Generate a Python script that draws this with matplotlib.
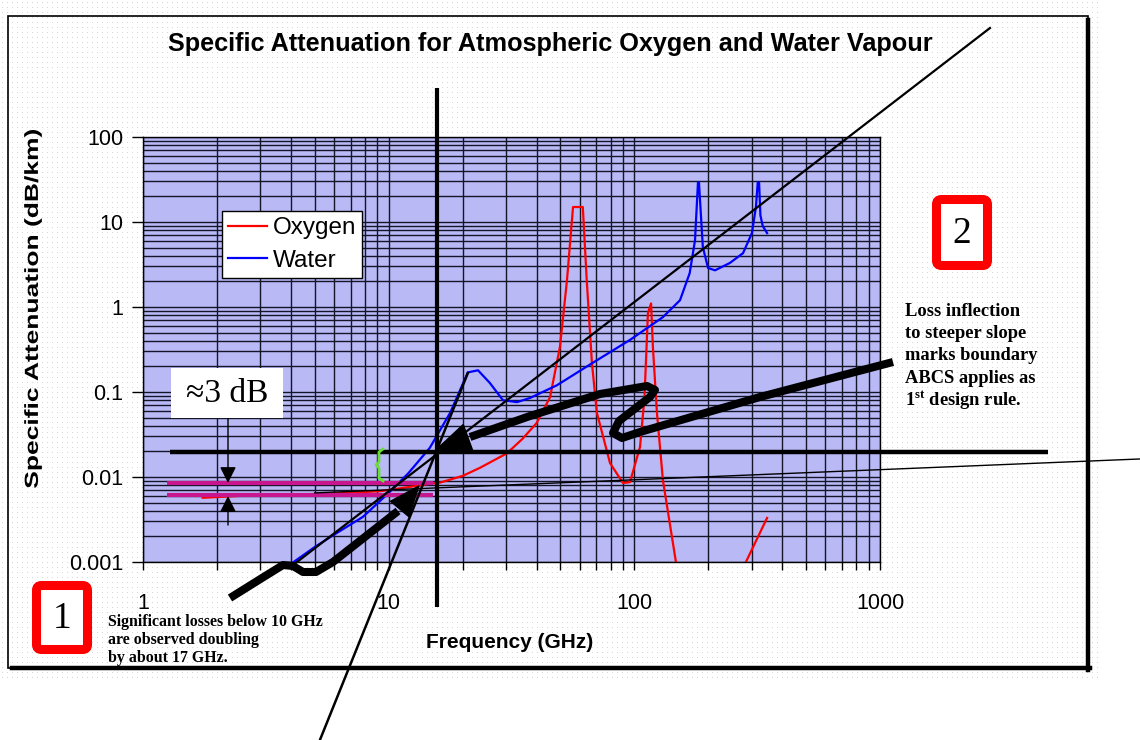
import numpy as np
import matplotlib
matplotlib.use('Agg')
import matplotlib.pyplot as plt
from matplotlib.patches import Rectangle, FancyBboxPatch, FancyArrowPatch, Polygon, PathPatch
from matplotlib.lines import Line2D
from matplotlib.transforms import Affine2D
from matplotlib.ticker import LogLocator, NullFormatter
from matplotlib.textpath import TextPath
from matplotlib.font_manager import FontProperties

plt.rcParams['font.family'] = ['Liberation Sans', 'DejaVu Sans']
plt.rcParams['mathtext.fontset'] = 'custom'
plt.rcParams['mathtext.rm'] = 'Liberation Serif:bold'
plt.rcParams['mathtext.bf'] = 'Liberation Serif:bold'

# ---- data (GHz, dB/km) ----
oxygen_freq = [1.75, 2.5, 4, 6, 7.4, 9.2, 12, 14.7, 16.2, 20, 23.5, 30.3, 35, 40, 45.4, 49.8,
               53.2, 56.3, 61.7, 64, 67.2, 70.4, 79.6, 89.9, 96, 105.5, 110, 113.6, 117,
               119, 123.6, 130.7, 149, np.nan, 277, 347]
oxygen_att = [0.0057, 0.0060, 0.0062, 0.0064, 0.0066, 0.0068, 0.0076, 0.0083, 0.0086, 0.0103,
              0.0128, 0.019, 0.028, 0.043, 0.087, 0.34, 2.08, 15, 15, 2.08, 0.22, 0.057,
              0.0146, 0.0085, 0.0087, 0.0226, 0.087, 0.85, 1.1, 0.34, 0.057, 0.0092, 0.00085,
              np.nan, 0.00085, 0.0033]

water_freq = [4.0, 5, 6, 7.86, 10, 12, 14.7, 17.8, 21, 23.1, 25.8, 29.2, 33.3, 37.6, 48.4,
              65.9, 96, 130.7, 153.4, 168, 176.6, 181.6, 183.3, 190, 199.5, 213, 245, 277,
              301, 312.6, 318, 322, 326, 333, 347]
water_att = [0.00095, 0.0015, 0.0021, 0.0034, 0.0065, 0.011, 0.022, 0.057, 0.17, 0.18, 0.128,
             0.08, 0.076, 0.085, 0.12, 0.21, 0.41, 0.76, 1.2, 2.5, 6.1, 29.5, 29, 5.1, 2.88,
             2.7, 3.3, 4.3, 7.4, 15, 29.5, 29, 12, 9, 7.4]

x_ticks = [1, 10, 100, 1000]
x_tick_labels = ['1', '10', '100', '1000']
y_ticks = [0.001, 0.01, 0.1, 1, 10, 100]
y_tick_labels = ['0.001', '0.01', '0.1', '1', '10', '100']

# overlay construction lines, in chart units
boundary_att = 0.0197
boundary_freq = 15.7
doubling_levels = [0.0085, 0.0061]
doubling_span = [1.25, 15.1]
slope_line_freq = [4.08, 2803]
slope_line_att = [0.00092, 1915]
steep_line_freq = [5.25, 21.0]
steep_line_att = [8.05e-6, 0.167]
flat_line_freq = [5.0, 11435]
flat_line_att = [0.0065, 0.0163]

W, H = 1140, 740
fig = plt.figure(figsize=(W / 100, H / 100), dpi=100)
fig.patch.set_facecolor('white')
px = Affine2D().scale(1.0 / W, -1.0 / H).translate(0, 1) + fig.transFigure
pxup = Affine2D().scale(1.0 / W, 1.0 / H) + fig.transFigure

# dotted paper background
dots = np.ones((H, W, 3))
dots[2:678:5, 2:1100:5] = 0.84
fig.figimage(dots, xo=0, yo=0, origin='upper', zorder=-10)

# outer frame with shadow
fig.add_artist(Rectangle((8, 16), 1080, 652, transform=px, fill=False, ec='black', lw=1.2))
fig.add_artist(Line2D([1088, 1088], [20, 670], transform=px, color='black', lw=3.2))
fig.add_artist(Line2D([12, 1090], [668, 668], transform=px, color='black', lw=3.2))

ax = fig.add_axes([143 / W, 1 - 562 / H, 737 / W, 425 / H])
ax.set_xscale('log')
ax.set_yscale('log')
ax.set_xlim(1, 1000)
ax.set_ylim(0.001, 100)
ax.set_facecolor('#b9b9f5')
ax.grid(True, which='both', color='#15152a', lw=1.0)
ax.set_axisbelow(True)
for s in ax.spines.values():
    s.set_color('black')
    s.set_linewidth(1.0)

ax.plot(oxygen_freq, oxygen_att, color='#ff0000', lw=1.6, label='Oxygen', zorder=3)
ax.plot(water_freq, water_att, color='#0000ff', lw=1.6, label='Water', zorder=3)

ax.set_xticks(x_ticks, x_tick_labels)
ax.set_yticks(y_ticks, y_tick_labels)
for axis in (ax.xaxis, ax.yaxis):
    axis.set_minor_locator(LogLocator(base=10, subs=np.arange(2, 10)))
    axis.set_minor_formatter(NullFormatter())
ax.tick_params(axis='x', which='both', direction='out', length=6, width=1, labelsize=15.5, pad=16)
ax.tick_params(axis='y', which='major', direction='out', length=8, width=1, labelsize=15.5, pad=6)
ax.tick_params(axis='y', which='minor', length=0)

leg = ax.legend(loc='upper left', bbox_to_anchor=(0.107, 0.826), borderaxespad=0,
                fancybox=False, framealpha=1, edgecolor='black', fontsize=17.5,
                handlelength=1.6, handletextpad=0.25, borderpad=0.25, labelspacing=0.45)
leg.get_frame().set_linewidth(1.0)
leg.set_zorder(6)

# construction lines
kw = dict(color='black', clip_on=False, zorder=7)
ax.plot([1.29, 4830], [boundary_att, boundary_att], lw=3.2, solid_capstyle='butt', **kw)
ax.plot([boundary_freq, boundary_freq], [377, 0.000295], lw=3.0, solid_capstyle='butt', **kw)
ax.plot(slope_line_freq, slope_line_att, lw=1.6, **kw)
ax.plot(steep_line_freq, steep_line_att, lw=1.8, **kw)
ax.plot(flat_line_freq, flat_line_att, lw=1.0, **kw)
ax.hlines(doubling_levels, doubling_span[0], doubling_span[1], colors='#c8168f', lw=3.0, zorder=6)


def thick_arrow(pts, tip, head_len, head_w):
    xs, ys = zip(*pts)
    fig.add_artist(Line2D(xs, ys, transform=px, color='black', lw=5.8,
                          solid_joinstyle='round', solid_capstyle='butt', zorder=8))
    bx, by = pts[-1]
    d = np.array([tip[0] - bx, tip[1] - by], dtype=float)
    u = d / np.hypot(*d)
    p = np.array([-u[1], u[0]])
    base = np.array(tip) - head_len * u
    tri = [tip, base + head_w * p, base - head_w * p]
    fig.add_artist(Polygon(tri, closed=True, transform=px, fc='black', ec='black', zorder=8))


thick_arrow([(230, 598), (262, 578), (283, 565), (293, 566), (303, 572), (316, 572),
             (333, 562), (398, 511)], (419, 486), 30, 12)
thick_arrow([(893, 362), (760, 397), (640, 432), (622, 438), (613, 433), (619, 421),
             (650, 397), (655, 390), (647, 386), (600, 394), (530, 416), (470, 437)],
            (437, 449), 33, 14)

# small dimension arrows and bracket
for a, b in [((228, 418), (228, 483)), ((228, 525), (228, 496))]:
    fig.add_artist(FancyArrowPatch(a, b, transform=px, arrowstyle='-|>,head_length=0.7,head_width=0.35',
                                   mutation_scale=14, lw=1.0, color='black', shrinkA=0, shrinkB=0,
                                   zorder=8))
fig.add_artist(Line2D([383, 379, 379, 376, 379, 379, 383], [449, 452, 462, 465, 468, 478, 481],
                      transform=px, color='#66e033', lw=2.0, zorder=8))

fig.add_artist(Rectangle((171, 368), 112, 50, transform=px, fc='white', ec='none', zorder=9))
fig.text(227, 394, '\u22483 dB', transform=px, ha='center', va='center', fontsize=24,
         family=['Liberation Serif', 'DejaVu Serif'], zorder=10)

# numbered red boxes
for (x0, y0, h), num in [((36.5, 585.5, 64), '1'), ((936.5, 199.5, 66), '2')]:
    fig.add_artist(FancyBboxPatch((x0, y0), 51, h, boxstyle='round,pad=0,rounding_size=5',
                                  transform=px, fc='white', ec='#ff0000', lw=6.5, zorder=9))
    fig.text(x0 + 25.5, y0 + h / 2 + 1, num, transform=px, ha='center', va='center',
             fontsize=27, family=['Liberation Serif'], zorder=10)

serif_bold = dict(family=['Liberation Serif'], fontweight='bold', color='black', zorder=10)
fig.text(108, 614, 'Significant losses below 10 GHz\nare observed doubling\nby about 17 GHz.',
         transform=px, ha='left', va='top', fontsize=11.4, linespacing=1.15, **serif_bold)
note_lines = ['Loss inflection', 'to steeper slope', 'marks boundary', 'ABCS applies as',
              r'1$^{\mathrm{st}}$ design rule.']
for i, line in enumerate(note_lines):
    fig.text(905, 311 + 22.5 * i, line, transform=px, ha='left', va='center',
             fontsize=13.3, **serif_bold)

# title and axis labels
fig.text(550, 44, 'Specific Attenuation for Atmospheric Oxygen and Water Vapour', transform=px,
         ha='center', va='center', fontsize=18.2, fontweight='bold')
fig.text(510, 643, 'Frequency (GHz)', transform=px, ha='center', va='center', fontsize=15,
         fontweight='bold')

# y label is drawn stretched along its length, as in the original
tp = TextPath((0, 0), 'Specific Attenuation (dB/km)', size=19,
              prop=FontProperties(family='Liberation Sans', weight='bold'))
bb = tp.get_extents()
sx = 358.0 / bb.width
tr = (Affine2D().translate(-(bb.x0 + bb.x1) / 2, -(bb.y0 + bb.y1) / 2).scale(sx, 1.0)
      .rotate_deg(90).translate(33, H - 309) + pxup)
fig.add_artist(PathPatch(tp, transform=tr, fc='black', ec='none'))

fig.savefig('out.png', dpi=100)
